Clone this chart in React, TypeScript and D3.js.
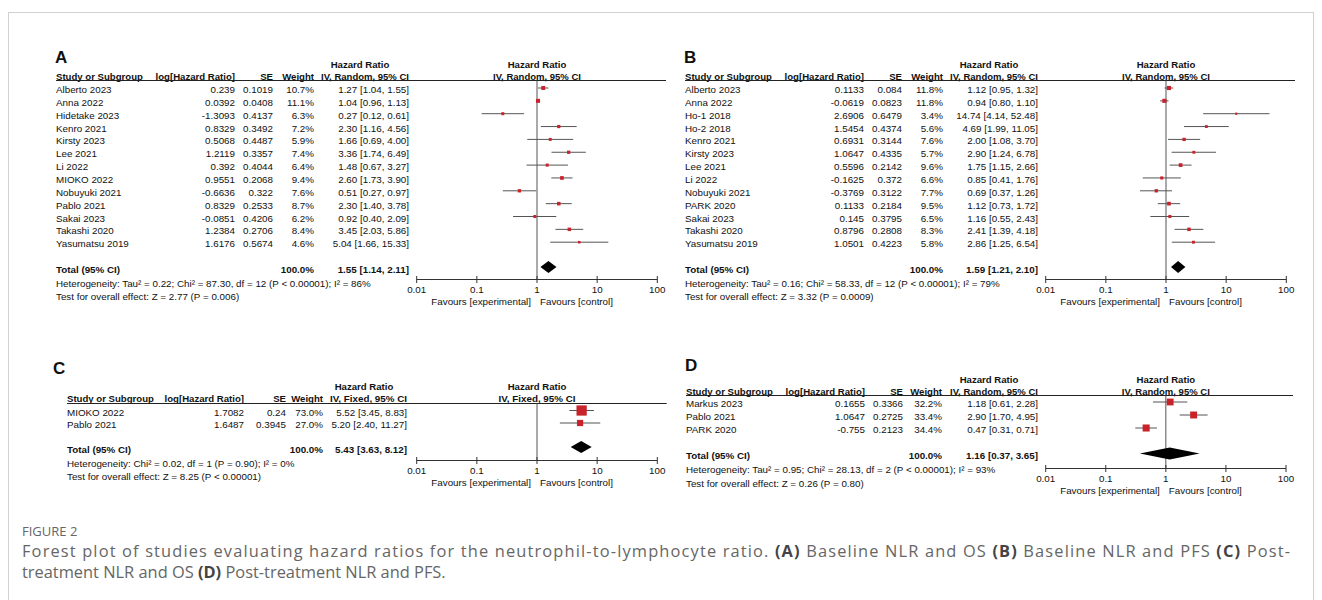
import * as d3 from "d3";

// ---- panel A: baseline NLR and OS ----
const studiesA = ["Alberto 2023", "Anna 2022", "Hidetake 2023", "Kenro 2021", "Kirsty 2023", "Lee 2021", "Li 2022", "MIOKO 2022", "Nobuyuki 2021", "Pablo 2021", "Sakai 2023", "Takashi 2020", "Yasumatsu 2019"];
const logHrA = [0.239, 0.0392, -1.3093, 0.8329, 0.5068, 1.2119, 0.392, 0.9551, -0.6636, 0.8329, -0.0851, 1.2384, 1.6176];
const seA = [0.1019, 0.0408, 0.4137, 0.3492, 0.4487, 0.3357, 0.4044, 0.2068, 0.322, 0.2533, 0.4206, 0.2706, 0.5674];
const weightA = [10.7, 11.1, 6.3, 7.2, 5.9, 7.4, 6.4, 9.4, 7.6, 8.7, 6.2, 8.4, 4.6];
const hrA = [1.27, 1.04, 0.27, 2.3, 1.66, 3.36, 1.48, 2.6, 0.51, 2.3, 0.92, 3.45, 5.04];
const loA = [1.04, 0.96, 0.12, 1.16, 0.69, 1.74, 0.67, 1.73, 0.27, 1.4, 0.4, 2.03, 1.66];
const hiA = [1.55, 1.13, 0.61, 4.56, 4.0, 6.49, 3.27, 3.9, 0.97, 3.78, 2.09, 5.86, 15.33];
const totalA = [1.55, 1.14, 2.11];
const hetA = "Heterogeneity: Tau² = 0.22; Chi² = 87.30, df = 12 (P < 0.00001); I² = 86%";
const testA = "Test for overall effect: Z = 2.77 (P = 0.006)";

// ---- panel B: baseline NLR and PFS ----
const studiesB = ["Alberto 2023", "Anna 2022", "Ho-1 2018", "Ho-2 2018", "Kenro 2021", "Kirsty 2023", "Lee 2021", "Li 2022", "Nobuyuki 2021", "PARK 2020", "Sakai 2023", "Takashi 2020", "Yasumatsu 2019"];
const logHrB = [0.1133, -0.0619, 2.6906, 1.5454, 0.6931, 1.0647, 0.5596, -0.1625, -0.3769, 0.1133, 0.145, 0.8796, 1.0501];
const seB = [0.084, 0.0823, 0.6479, 0.4374, 0.3144, 0.4335, 0.2142, 0.372, 0.3122, 0.2184, 0.3795, 0.2808, 0.4223];
const weightB = [11.8, 11.8, 3.4, 5.6, 7.6, 5.7, 9.6, 6.6, 7.7, 9.5, 6.5, 8.3, 5.8];
const hrB = [1.12, 0.94, 14.74, 4.69, 2.0, 2.9, 1.75, 0.85, 0.69, 1.12, 1.16, 2.41, 2.86];
const loB = [0.95, 0.8, 4.14, 1.99, 1.08, 1.24, 1.15, 0.41, 0.37, 0.73, 0.55, 1.39, 1.25];
const hiB = [1.32, 1.1, 52.48, 11.05, 3.7, 6.78, 2.66, 1.76, 1.26, 1.72, 2.43, 4.18, 6.54];
const totalB = [1.59, 1.21, 2.1];
const hetB = "Heterogeneity: Tau² = 0.16; Chi² = 58.33, df = 12 (P < 0.00001); I² = 79%";
const testB = "Test for overall effect: Z = 3.32 (P = 0.0009)";

// ---- panel C: post-treatment NLR and OS ----
const studiesC = ["MIOKO 2022", "Pablo 2021"];
const logHrC = [1.7082, 1.6487];
const seC = [0.24, 0.3945];
const weightC = [73.0, 27.0];
const hrC = [5.52, 5.2];
const loC = [3.45, 2.4];
const hiC = [8.83, 11.27];
const totalC = [5.43, 3.63, 8.12];
const hetC = "Heterogeneity: Chi² = 0.02, df = 1 (P = 0.90); I² = 0%";
const testC = "Test for overall effect: Z = 8.25 (P < 0.00001)";

// ---- panel D: post-treatment NLR and PFS ----
const studiesD = ["Markus 2023", "Pablo 2021", "PARK 2020"];
const logHrD = [0.1655, 1.0647, -0.755];
const seD = [0.3366, 0.2725, 0.2123];
const weightD = [32.2, 33.4, 34.4];
const hrD = [1.18, 2.9, 0.47];
const loD = [0.61, 1.7, 0.31];
const hiD = [2.28, 4.95, 0.71];
const totalD = [1.16, 0.37, 3.65];
const hetD = "Heterogeneity: Tau² = 0.95; Chi² = 28.13, df = 2 (P < 0.00001); I² = 93%";
const testD = "Test for overall effect: Z = 0.26 (P = 0.80)";

const axisTicks = [0.01, 0.1, 1, 10, 100];
const axisTickLabels = ["0.01", "0.1", "1", "10", "100"];

const FONT = "'Liberation Sans', Arial, sans-serif";
const RED = "#c8232b";

const layoutAB = (dx: number, letter: string) => ({
  letter, letterX: 55 + dx, letterY: 63,
  hdrY: 64, colY: 76, lineY: 80.5, row0: 89.5, rowStep: 12.85,
  totalY: 269, hetY: 283, testY: 296, axisY: 279.5, tickY: 289.5, favY: 301.5,
  study: 56 + dx, log: 235 + dx, se: 273 + dx, weight: 314 + dx, ci: 409 + dx, hrHdr: 360 + dx,
  plot: [416.7 + dx, 657.3 + dx], line: [56 + dx, 666 + dx],
});

const layoutC = {
  letter: "C", letterX: 53, letterY: 374,
  hdrY: 386, colY: 398, lineY: 403.5, row0: 412, rowStep: 12.5,
  totalY: 449, hetY: 463, testY: 476, axisY: 460.5, tickY: 470, favY: 482,
  study: 67, log: 244, se: 286, weight: 323, ci: 407, hrHdr: 364,
  plot: [416.7, 657.3], line: [67, 666.7],
};

const layoutD = {
  letter: "D", letterX: 685, letterY: 371,
  hdrY: 379.5, colY: 391, lineY: 395.5, row0: 403.5, rowStep: 13,
  totalY: 455.5, hetY: 469, testY: 483, axisY: 468.5, tickY: 478, favY: 490,
  study: 686, log: 865, se: 903, weight: 942, ci: 1038, hrHdr: 989,
  plot: [1045.7, 1286], line: [686, 1293],
};

const fmtCI = (h: number, l: number, u: number) => `${h.toFixed(2)} [${l.toFixed(2)}, ${u.toFixed(2)}]`;

function Forest(props: any) {
  const { L, method, methodW, studies, logHr, se, weight, hr, lo, hi, total, het, test } = props;
  const x = d3.scaleLog().domain([0.01, 100]).range(L.plot);
  const size = d3.scaleSqrt().domain([0, 100]).range([0, 12]);
  const t = (y: number) => y + 3.5;
  const x1 = x(1);
  const rowY = (i: number) => L.row0 + i * L.rowStep;
  const dy = L.totalY - 2;
  const diamond = d3.line()([
    [x(total[1]), dy], [x(total[0]), dy - 6], [x(total[2]), dy], [x(total[0]), dy + 6],
  ]) + "Z";

  return (
    <g fontFamily={FONT} fontSize={9.8} fill="#111">
      <text x={L.letterX} y={L.letterY} fontSize={17} fontWeight="bold">{L.letter}</text>
      <g fontWeight="bold" fontSize={9.6}>
        <text x={L.hrHdr} y={t(L.hdrY)} textAnchor="middle">Hazard Ratio</text>
        <text x={x1} y={t(L.hdrY)} textAnchor="middle">Hazard Ratio</text>
        <text x={L.study} y={t(L.colY)}>Study or Subgroup</text>
        <text x={L.log} y={t(L.colY)} textAnchor="end">log[Hazard Ratio]</text>
        <text x={L.se} y={t(L.colY)} textAnchor="end">SE</text>
        <text x={L.weight} y={t(L.colY)} textAnchor="end">Weight</text>
        <text x={L.ci - methodW} y={t(L.colY)} textLength={methodW} lengthAdjust="spacingAndGlyphs">{method}</text>
        <text x={x1 - methodW / 2} y={t(L.colY)} textLength={methodW} lengthAdjust="spacingAndGlyphs">{method}</text>
      </g>
      <line x1={L.line[0]} x2={L.line[1]} y1={L.lineY} y2={L.lineY} stroke="#222" />
      <line x1={x1} x2={x1} y1={L.lineY} y2={L.axisY} stroke="#555" />

      {studies.map((s: string, i: number) => {
        const y = rowY(i);
        const w = size(weight[i]);
        return (
          <g key={s}>
            <text x={L.study} y={t(y)}>{s}</text>
            <text x={L.log} y={t(y)} textAnchor="end">{String(logHr[i])}</text>
            <text x={L.se} y={t(y)} textAnchor="end">{String(se[i])}</text>
            <text x={L.weight} y={t(y)} textAnchor="end">{weight[i].toFixed(1)}%</text>
            <text x={L.ci} y={t(y)} textAnchor="end">{fmtCI(hr[i], lo[i], hi[i])}</text>
            <line x1={x(lo[i])} x2={x(hi[i])} y1={y - 1.5} y2={y - 1.5} stroke="#555" />
            <rect x={x(hr[i]) - w / 2} y={y - 1.5 - w / 2} width={w} height={w} fill={RED} />
          </g>
        );
      })}

      <g fontWeight="bold">
        <text x={L.study} y={t(L.totalY)}>Total (95% CI)</text>
        <text x={L.weight} y={t(L.totalY)} textAnchor="end">100.0%</text>
        <text x={L.ci} y={t(L.totalY)} textAnchor="end">{fmtCI(total[0], total[1], total[2])}</text>
      </g>
      <path d={diamond} fill="#000" />
      <text x={L.study} y={t(L.hetY)}>{het}</text>
      <text x={L.study} y={t(L.testY)}>{test}</text>

      <line x1={L.plot[0]} x2={L.plot[1]} y1={L.axisY} y2={L.axisY} stroke="#333" />
      {axisTicks.map((v, i) => (
        <g key={v}>
          <line x1={x(v)} x2={x(v)} y1={L.axisY - 3.5} y2={L.axisY + 3.5} stroke="#333" />
          <text x={x(v)} y={t(L.tickY)} textAnchor="middle">{axisTickLabels[i]}</text>
        </g>
      ))}
      <text x={x1 - 6} y={t(L.favY)} textAnchor="end">Favours [experimental]</text>
      <text x={x1 + 3} y={t(L.favY)}>Favours [control]</text>
    </g>
  );
}

export default function App() {
  const capFont = "'Open Sans', 'Noto Sans', sans-serif";
  return (
    <>
      <style>{`body{margin:0}`}</style>
      <svg width={1322} height={600} style={{ display: "block", background: "#fff" }}>
        <rect x={8.5} y={12.5} width={1305} height={620} fill="none" stroke="#d0d0d0" />
        <Forest L={layoutAB(0, "A")} method="IV, Random, 95% CI" methodW={88} studies={studiesA} logHr={logHrA} se={seA}
          weight={weightA} hr={hrA} lo={loA} hi={hiA} total={totalA} het={hetA} test={testA} />
        <Forest L={layoutAB(629, "B")} method="IV, Random, 95% CI" methodW={88} studies={studiesB} logHr={logHrB} se={seB}
          weight={weightB} hr={hrB} lo={loB} hi={hiB} total={totalB} het={hetB} test={testB} />
        <Forest L={layoutC} method="IV, Fixed, 95% CI" methodW={77} studies={studiesC} logHr={logHrC} se={seC}
          weight={weightC} hr={hrC} lo={loC} hi={hiC} total={totalC} het={hetC} test={testC} />
        <Forest L={layoutD} method="IV, Random, 95% CI" methodW={88} studies={studiesD} logHr={logHrD} se={seD}
          weight={weightD} hr={hrD} lo={loD} hi={hiD} total={totalD} het={hetD} test={testD} />

        <g fontFamily={capFont} fill="#666">
          <text x={22} y={535.5} fontSize={13}>FIGURE 2</text>
          <text x={22} y={557} fontSize={16.4} textLength={1268} lengthAdjust="spacing">
            Forest plot of studies evaluating hazard ratios for the neutrophil-to-lymphocyte ratio.{" "}
            <tspan fontWeight="bold" fill="#444">(A)</tspan> Baseline NLR and OS{" "}
            <tspan fontWeight="bold" fill="#444">(B)</tspan> Baseline NLR and PFS{" "}
            <tspan fontWeight="bold" fill="#444">(C)</tspan> Post-
          </text>
          <text x={22} y={578} fontSize={16.4}>
            treatment NLR and OS <tspan fontWeight="bold" fill="#444">(D)</tspan> Post-treatment NLR and PFS.
          </text>
        </g>
      </svg>
    </>
  );
}
